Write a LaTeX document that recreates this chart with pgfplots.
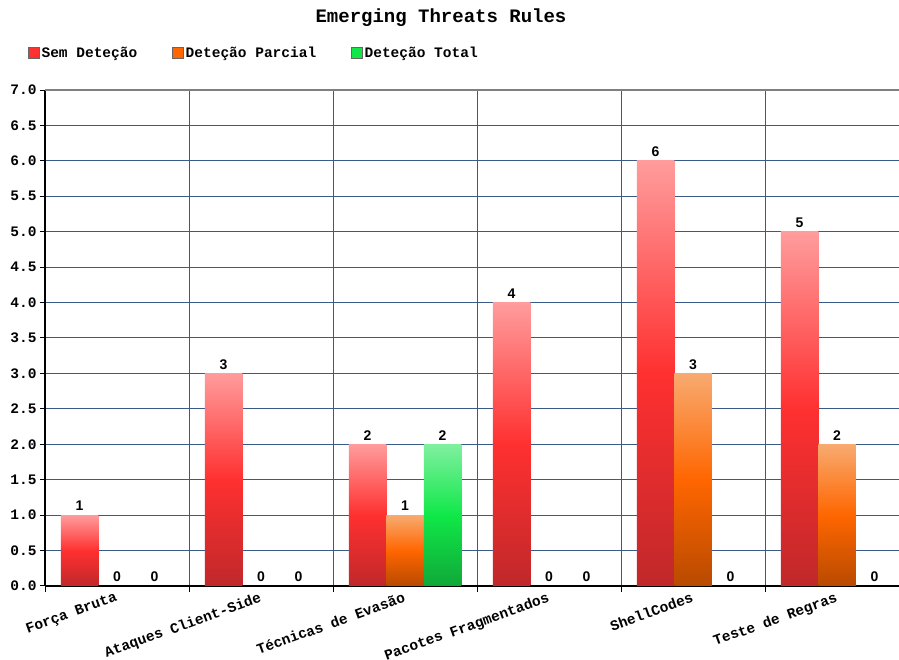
\documentclass[border=0pt]{standalone}
\usepackage{fontspec}
\usepackage{pgfplots}
\pgfplotsset{compat=1.18}
\newfontfamily\monof{Liberation Mono}
\newfontfamily\sansf{Liberation Sans}
\definecolor{gridc}{HTML}{3A5A88}
\definecolor{rtop}{HTML}{FF9C9C}
\definecolor{rmid}{HTML}{FF3030}
\definecolor{rbot}{HTML}{C0282A}
\definecolor{otop}{HTML}{F8AA70}
\definecolor{omid}{HTML}{FF6600}
\definecolor{obot}{HTML}{B84A00}
\definecolor{gtop}{HTML}{80F0A0}
\definecolor{gmid}{HTML}{10E848}
\definecolor{gbot}{HTML}{10A838}
\pgfplotsset{
  redbar/.style={forget plot, bar shift=-37.5pt, draw=none, top color=rtop, bottom color=rbot, middle color=rmid},
  orabar/.style={forget plot, bar shift=0pt, draw=none, top color=otop, bottom color=obot, middle color=omid},
  grnbar/.style={forget plot, bar shift=37.5pt, draw=none, top color=gtop, bottom color=gbot, middle color=gmid},
}
\begin{document}
\begin{tikzpicture}[x=1pt,y=1pt]
\path[use as bounding box] (-45,-74) rectangle (854,586);
\begin{axis}[at={(0,0)}, anchor=south west, scale only axis,
  width=854pt, height=496pt,
  xmin=-0.5, xmax=5.43, ymin=0, ymax=7,
  axis x line*=bottom, axis y line*=left,
  axis line style={black, line width=1.5pt, -},
  /pgf/number format/assume math mode=true,
  ytick={0,0.5,1,1.5,2,2.5,3,3.5,4,4.5,5,5.5,6,6.5,7},
  yticklabel={\pgfmathprintnumber[fixed,fixed zerofill,precision=1]{\tick}},
  xtick={0,1,2,3,4,5},
  xticklabels={Força Bruta, Ataques Client-Side, Técnicas de Evasão, Pacotes Fragmentados, ShellCodes, Teste de Regras},
  minor xtick={-0.5,0.5,1.5,2.5,3.5,4.5},
  ymajorgrids, xminorgrids,
  major grid style={gridc, line width=1pt},
  minor grid style={gridc, line width=1pt},
  tick align=outside,
  major tick length=5pt, minor tick length=6pt,
  major x tick style={draw=none},
  minor x tick style={black, line width=1pt},
  ytick style={black, line width=1pt},
  ticklabel style={font=\monof\bfseries\fontsize{14.5}{16}\selectfont},
  xticklabel style={rotate=20, anchor=north east, yshift=4pt, xshift=1pt},
  title={Emerging Threats Rules},
  title style={at={(0.4637,1)}, anchor=center, yshift=66pt, font=\monof\bfseries\fontsize{19}{20}\selectfont},
  ybar=0pt, bar width=37.5pt,
  nodes near coords,
  nodes near coords style={font=\sansf\bfseries\fontsize{14}{14}\selectfont, fill=white, inner sep=1pt, anchor=south, yshift=3pt},
  legend style={at={(0,1)}, anchor=west, xshift=-20pt, yshift=37pt, draw=none, fill=none,
    font=\monof\bfseries\fontsize{14.5}{16}\selectfont, legend columns=3,
    /tikz/every even column/.append style={column sep=33pt}},
  legend image code/.code={\draw[#1] (0pt,-5.5pt) rectangle (11pt,5.5pt);},
  clip=false,
]
\addlegendimage{fill=rmid, draw=black!60}
\addlegendentry{Sem Deteção}
\addlegendimage{fill=omid, draw=black!60}
\addlegendentry{Deteção Parcial}
\addlegendimage{fill=gmid, draw=black!60}
\addlegendentry{Deteção Total}
\draw[gray, line width=1.5pt] (rel axis cs:0,1) -- (rel axis cs:1,1);
% Sem Deteção
\addplot[redbar] coordinates {(0,1)};
\addplot[redbar] coordinates {(1,3)};
\addplot[redbar] coordinates {(2,2)};
\addplot[redbar] coordinates {(3,4)};
\addplot[redbar] coordinates {(4,6)};
\addplot[redbar] coordinates {(5,5)};
% Deteção Parcial
\addplot[orabar] coordinates {(0,0)};
\addplot[orabar] coordinates {(1,0)};
\addplot[orabar] coordinates {(2,1)};
\addplot[orabar] coordinates {(3,0)};
\addplot[orabar] coordinates {(4,3)};
\addplot[orabar] coordinates {(5,2)};
% Deteção Total
\addplot[grnbar] coordinates {(0,0)};
\addplot[grnbar] coordinates {(1,0)};
\addplot[grnbar] coordinates {(2,2)};
\addplot[grnbar] coordinates {(3,0)};
\addplot[grnbar] coordinates {(4,0)};
\addplot[grnbar] coordinates {(5,0)};
\end{axis}
\end{tikzpicture}
\end{document}
